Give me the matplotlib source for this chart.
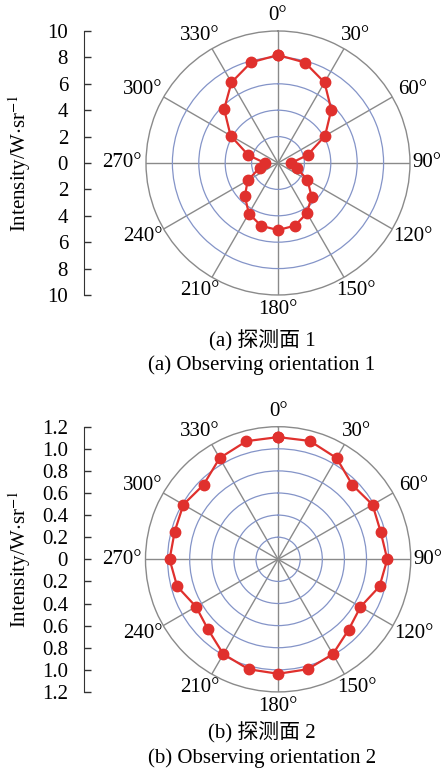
import matplotlib
matplotlib.use('Agg')
import matplotlib.pyplot as plt
import numpy as np

plt.rcParams['font.family'] = ['Liberation Serif', 'Noto Sans CJK SC']
plt.rcParams['mathtext.fontset'] = 'stix'

# angles of the measurement points (degrees)
angles_deg = [0, 15, 30, 45, 60, 75, 90, 105, 120, 135, 150, 165,
              180, 195, 210, 225, 240, 255, 270, 285, 300, 315, 330, 345]

# (a) observing orientation 1
intensity_a = [8.18, 7.88, 7.05, 5.71, 4.12, 2.32, 1.00, 1.47, 2.58, 3.60, 4.39, 4.92,
               5.08, 4.93, 4.42, 3.55, 2.65, 1.45, 1.00, 2.34, 4.15, 5.77, 7.05, 7.89]

# (b) observing orientation 2
intensity_b = [1.106, 1.109, 1.058, 0.951, 0.987, 0.961, 0.988, 0.950, 0.861, 0.902, 0.991, 1.030,
               1.036, 1.030, 0.991, 0.897, 0.858, 0.946, 0.982, 0.969, 0.990, 0.954, 1.058, 1.107]

angle_labels = [0, 30, 60, 90, 120, 150, 180, 210, 240, 270, 300, 330]

panels = [
    dict(values=intensity_a, rmax=10, rings=[2, 4, 6, 8],
         left_ticks=[-10, -8, -6, -4, -2, 0, 2, 4, 6, 8, 10],
         cap_cn='(a) 探测面 1', cap_en='(a) Observing orientation 1',
         polar_rect=[0.3266, 0.6184, 0.5906, 0.3415], cap_y=(340, 365)),
    dict(values=intensity_b, rmax=1.2, rings=[0.2, 0.4, 0.6, 0.8, 1.0],
         left_ticks=[-1.2, -1.0, -0.8, -0.6, -0.4, -0.2, 0, 0.2, 0.4, 0.6, 0.8, 1.0, 1.2],
         cap_cn='(b) 探测面 2', cap_en='(b) Observing orientation 2',
         polar_rect=[0.3255, 0.1049, 0.5933, 0.3431], cap_y=(732, 758)),
]

W, H = 447, 773
fig = plt.figure(figsize=(W / 100, H / 100), dpi=100)

red = '#e0302d'
fs = 15
for p in panels:
    theta = np.deg2rad(angles_deg + [angles_deg[0]])
    r = p['values'] + [p['values'][0]]

    ax = fig.add_axes(p['polar_rect'], projection='polar')
    ax.set_theta_zero_location('N')
    ax.set_theta_direction(-1)
    ax.plot(theta, r, '-o', color=red, linewidth=1.6, markersize=7.5, zorder=5)
    ax.set_ylim(0, p['rmax'])
    ax.set_yticks(p['rings'])
    ax.set_yticklabels([])
    ax.set_xticks(np.deg2rad(angle_labels))
    ax.set_xticklabels([])
    ax.xaxis.grid(True, color='#8a8a8a', linewidth=1.0)
    ax.yaxis.grid(True, color='#8494c8', linewidth=0.9)
    ax.spines['polar'].set_color('#8a8a8a')
    ax.spines['polar'].set_linewidth(1.0)

    # angle labels on an ellipse just outside the outer ring (axes fraction)
    for a in angle_labels:
        t = np.deg2rad(a)
        dx = 156 * np.sin(t)
        if a == 90:
            dx = 149
        dy = 147 * np.cos(t)
        ax.text(0.5 + dx / 264, 0.5 + dy / 264, f'{a}°', transform=ax.transAxes,
                ha='center', va='center', fontsize=fs, clip_on=False)

    # linear scale on the left
    x0, y0, w0, h0 = p['polar_rect']
    lax = fig.add_axes([84 / W, y0, 0.02, h0])
    lax.set_ylim(-p['rmax'], p['rmax'])
    lax.set_yticks(p['left_ticks'])
    labels = []
    for t in p['left_ticks']:
        if t == 0:
            labels.append('0')
        elif p['rmax'] >= 10:
            labels.append(f'{abs(t):g}')
        else:
            labels.append(f'{abs(t):.1f}')
    lax.set_yticklabels(labels[::-1], fontsize=fs)
    lax.tick_params(axis='y', direction='in', length=5, width=1, color='#333333', pad=11.5)
    lax.set_xticks([])
    for s in ['top', 'right', 'bottom']:
        lax.spines[s].set_visible(False)
    lax.spines['left'].set_color('#333333')
    lax.patch.set_alpha(0)
    fig.text(20 / W, y0 + h0 / 2, r'Intensity/W$\cdot$sr$^{-1}$', rotation=90,
             ha='center', va='center', fontsize=fs)

    fig.text(262 / W, 1 - p['cap_y'][0] / H, p['cap_cn'], ha='center', va='center', fontsize=fs)
    fig.text(262 / W, 1 - p['cap_y'][1] / H, p['cap_en'], ha='center', va='center', fontsize=fs)

fig.savefig('out.png', dpi=100)
